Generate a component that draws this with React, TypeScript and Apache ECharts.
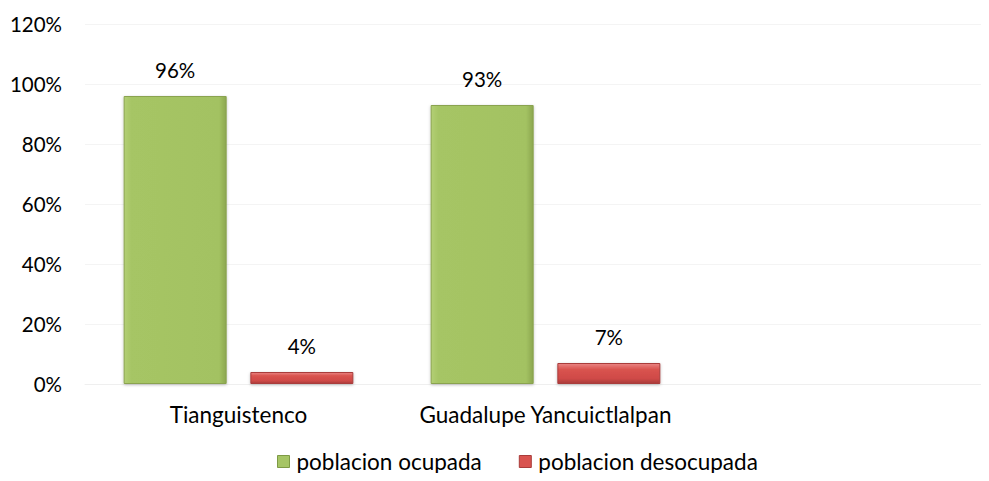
import React, { useEffect, useRef } from "react";
import * as echarts from "echarts";

const categories = ["Tianguistenco", "Guadalupe Yancuictlalpan", ""];
const ocupada = [96, 93, null];
const desocupada = [4, 7, null];
const seriesNames = ["poblacion ocupada", "poblacion desocupada"];
const yTicks = [0, 20, 40, 60, 80, 100, 120];

const FONT = "Lato, 'Open Sans', sans-serif";

export default function App() {
  const ref = useRef<HTMLDivElement>(null);
  useEffect(() => {
    if (!ref.current) return;
    const chart = echarts.init(ref.current, undefined, { renderer: "svg" });
    const green = new echarts.graphic.LinearGradient(0, 0, 1, 0, [
      { offset: 0, color: "#B3CF74" },
      { offset: 0.07, color: "#A6C565" },
      { offset: 0.93, color: "#A3C262" },
      { offset: 1, color: "#8CA750" },
    ]);
    const red = new echarts.graphic.LinearGradient(0, 0, 0, 1, [
      { offset: 0, color: "#EA8583" },
      { offset: 0.3, color: "#D9534F" },
      { offset: 0.75, color: "#CF4A47" },
      { offset: 1, color: "#A93C3A" },
    ]);
    chart.setOption({
      animation: false,
      textStyle: { fontFamily: FONT },
      grid: { left: 85, top: 24, height: 360, width: 921, containLabel: false, outerBoundsMode: "none" },
      legend: {
        left: 277,
        top: 450,
        padding: 0,
        itemWidth: 12,
        itemHeight: 12,
        itemGap: 37,
        textStyle: { fontSize: 22.5, color: "#000", fontFamily: FONT, padding: [0, 0, 0, 2] },
        data: [
          { name: seriesNames[0], icon: "rect", itemStyle: { color: "#A6C565", borderColor: "#7E9A45", borderWidth: 1 } },
          { name: seriesNames[1], icon: "rect", itemStyle: { color: "#D9534F", borderColor: "#A93C3A", borderWidth: 1 } },
        ],
      },
      xAxis: {
        type: "category",
        data: categories,
        axisLine: { show: true, lineStyle: { color: "#EFEFEF", width: 1 } },
        axisTick: { show: false },
        axisLabel: { fontSize: 22.5, color: "#000", margin: 19, interval: 0, fontFamily: FONT },
      },
      yAxis: {
        type: "value",
        min: 0,
        max: 120,
        interval: 20,
        axisLine: { show: false },
        axisTick: { show: false },
        splitLine: { lineStyle: { color: "#F4F4F4", width: 1 } },
        axisLabel: {
          fontSize: 20.5,
          color: "#000",
          margin: 23,
          fontFamily: FONT,
          formatter: (v: number) => (yTicks.includes(v) ? v + "%" : ""),
        },
      },
      series: [
        {
          name: seriesNames[0],
          type: "bar",
          data: ocupada,
          barWidth: 103,
          barGap: "23%",
          itemStyle: { color: green, borderColor: "#8AA34F", borderWidth: 1, shadowColor: "rgba(0,0,0,0.25)", shadowBlur: 3, shadowOffsetY: 1 },
          label: { show: true, position: "top", distance: 16, fontSize: 20.5, color: "#000", fontFamily: FONT, formatter: "{c}%" },
        },
        {
          name: seriesNames[1],
          type: "bar",
          data: desocupada,
          barWidth: 103,
          itemStyle: { color: red, borderColor: "#A93C3A", borderWidth: 1, shadowColor: "rgba(0,0,0,0.25)", shadowBlur: 3, shadowOffsetY: 1 },
          label: { show: true, position: "top", distance: 16, fontSize: 20.5, color: "#000", fontFamily: FONT, formatter: "{c}%" },
        },
      ],
    });
    return () => chart.dispose();
  }, []);
  return <div ref={ref} style={{ width: 989, height: 481, margin: -8 }} />;
}
